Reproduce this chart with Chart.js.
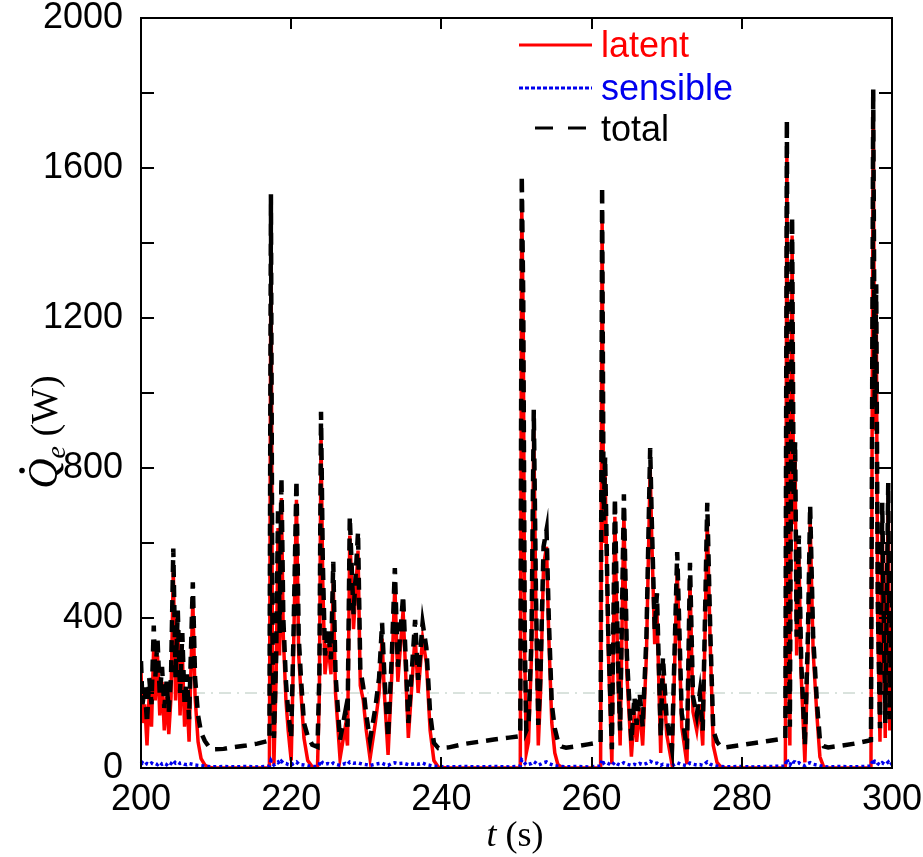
<!DOCTYPE html>
<html><head><meta charset="utf-8">
<script src="https://cdn.jsdelivr.net/npm/chart.js@4/dist/chart.umd.min.js"></script>
<style>html,body{margin:0;padding:0;background:#fff}#wrap{width:923px;height:857px;position:relative}</style>
</head><body><div id="wrap"><canvas id="c" width="923" height="857"></canvas></div>
<script>
// time (s)
const time = [
200.0,200.2,200.5,200.8,201.1,201.4,201.7,201.9,202.2,202.5,202.8,203.1,203.4,203.7,204.0,204.3,204.6,204.9,205.2,205.5,205.8,206.1,206.4,206.9,207.2,207.6,208.0,208.5,209.0,209.6,
211.0,212.5,214.0,215.5,217.1,
217.3,217.5,217.7,218.0,218.25,218.45,218.7,218.95,219.3,219.6,220.0,220.3,220.7,221.0,221.3,221.7,222.2,222.8,223.5,
223.75,223.97,224.2,224.5,224.9,225.3,225.6,225.9,226.5,227.2,227.5,227.8,228.3,228.9,229.2,229.6,230.0,230.5,231.2,231.7,232.1,232.4,232.9,233.4,233.8,234.2,234.9,235.6,236.0,236.5,236.9,237.5,238.0,238.5,239.0,239.6,
241.0,243.0,245.0,247.0,249.0,250.5,
250.7,250.9,251.1,251.3,251.6,252.0,252.3,252.6,252.9,253.2,253.6,254.0,254.3,254.7,255.1,255.5,256.0,256.6,
258.0,259.5,261.2,
261.4,261.6,261.8,262.2,262.7,263.1,263.5,263.8,264.3,264.7,265.3,265.7,266.0,266.4,266.8,267.3,267.8,268.0,268.4,268.7,269.2,269.5,270.0,270.7,271.4,272.0,272.7,273.1,273.5,274.0,274.4,274.8,275.4,275.8,276.2,276.7,277.2,277.8,
279.5,281.5,283.5,285.8,
286.0,286.2,286.4,286.7,286.9,287.1,287.3,287.6,287.9,288.4,288.8,289.1,289.5,290.0,290.4,290.9,291.5,
293.0,295.0,297.2,
297.5,297.7,297.9,298.1,298.4,298.7,299.1,299.5,299.7,300.0
];
// latent heat flow (W)
const latent = [
260,120,170,60,200,110,330,180,300,140,230,100,190,90,190,530,180,370,140,310,110,200,70,450,190,70,25,8,2,0,
0,0,0,0,0,
1450,300,10,250,640,300,720,350,180,100,20,300,715,300,200,80,20,3,0,
200,890,500,250,330,250,500,200,25,110,60,620,370,580,220,180,100,25,120,200,345,200,35,250,490,230,420,80,200,355,200,345,280,100,20,2,
0,0,0,0,0,0,
1500,1190,300,40,70,300,900,400,60,200,540,590,350,120,40,10,2,0,
0,0,0,
1480,600,780,330,10,670,250,60,680,250,30,150,70,160,60,300,800,620,330,420,40,250,90,10,530,110,10,500,150,100,170,60,660,330,60,15,3,0,
0,0,0,0,
1650,400,60,1420,650,820,300,570,250,15,300,660,310,140,30,3,0,
0,0,0,
1750,900,1230,400,70,660,80,720,100,400
];
// total heat flow (W)
const total = [
285,170,215,120,240,170,380,240,345,195,270,160,230,150,245,585,240,420,200,360,170,250,130,495,240,140,95,72,58,50,
51,56,60,65,73,
1530,360,80,300,695,360,775,400,230,150,80,350,768,350,240,120,85,62,56,
250,950,560,300,370,290,550,250,75,150,110,670,410,630,265,215,140,75,160,240,387,250,80,300,533,270,460,120,240,395,235,387,320,145,67,53,
55,64,70,76,81,85,
1580,1250,350,100,115,350,955,450,115,250,590,635,400,170,105,72,57,54,
58,63,69,
1550,660,830,370,50,720,300,100,730,300,70,190,115,200,110,350,853,670,368,466,83,296,128,50,576,146,50,547,190,140,200,100,707,368,100,70,57,55,
60,66,72,79,
1728,460,110,1470,720,870,350,620,290,60,350,700,350,176,75,58,55,
59,65,74,
1810,960,1290,450,106,707,120,760,130,450
];
// sensible heat flow (W)
const sensible = [
10,14,8,12,9,13,10,12,9,15,10,13,9,16,12,20,13,16,12,13,10,9,12,10,8,7,6,5,4,3,
4,3,4,3,5,
20,13,8,12,16,10,18,13,12,9,7,12,16,10,9,8,6,4,4,
10,20,13,10,12,9,13,10,7,12,9,16,13,14,12,10,9,7,10,12,13,10,7,12,14,12,13,9,10,12,10,13,9,7,5,4,
3,4,3,4,3,5,
22,18,13,8,10,12,17,13,8,10,14,16,12,9,6,5,4,3,
4,3,5,
22,13,16,12,7,16,10,8,14,10,7,10,8,12,9,12,18,16,12,13,7,10,8,6,14,9,6,13,10,8,9,7,16,10,7,5,4,3,
4,3,4,5,
24,13,8,20,16,16,12,14,10,6,12,14,10,8,6,4,3,
4,3,5,
24,16,18,12,8,14,9,16,8,12
];
const refTimes = [200, 300];
const refValues = [200, 200];
const xTickLabels = [200, 220, 240, 260, 280, 300];
const yTickLabels = [0, 400, 800, 1200, 1600, 2000];
const yTickMarks = [0, 200, 400, 600, 800, 1000, 1200, 1400, 1600, 1800, 2000];
const seriesNames = ['latent', 'sensible', 'total'];

const pts = (xs, ys) => xs.map((v, i) => ({x: v, y: ys[i]}));
const SANS = '"Liberation Sans", Arial, sans-serif';
const SERIF = '"Liberation Serif", "Times New Roman", serif';

const decor = {
  id: 'decor',
  afterDraw(chart) {
    const {ctx, chartArea: a, scales: {x, y}} = chart;
    ctx.save();
    ctx.strokeStyle = '#000';
    ctx.lineWidth = 2;
    ctx.setLineDash([]);
    ctx.strokeRect(a.left, a.top, a.right - a.left, a.bottom - a.top);
    ctx.beginPath();
    yTickMarks.forEach(v => {
      const py = Math.round(y.getPixelForValue(v));
      ctx.moveTo(a.left, py); ctx.lineTo(a.left + 13, py);
      ctx.moveTo(a.right, py); ctx.lineTo(a.right - 13, py);
    });
    xTickLabels.forEach(v => {
      const px = Math.round(x.getPixelForValue(v));
      ctx.moveTo(px, a.bottom); ctx.lineTo(px, a.bottom - 11);
      ctx.moveTo(px, a.top); ctx.lineTo(px, a.top + 11);
    });
    ctx.stroke();

    // legend
    const lx0 = 519, lx1 = 592, tx = 601;
    const rows = [47, 90, 131];
    ctx.lineWidth = 3;
    ctx.strokeStyle = '#ff0000';
    ctx.beginPath(); ctx.moveTo(lx0, rows[0] - 2); ctx.lineTo(lx1, rows[0] - 2); ctx.stroke();
    ctx.strokeStyle = '#0000ee';
    ctx.setLineDash([4, 2]);
    ctx.beginPath(); ctx.moveTo(lx0, rows[1] - 2); ctx.lineTo(lx1, rows[1] - 2); ctx.stroke();
    ctx.strokeStyle = '#000';
    ctx.setLineDash([18, 15]);
    ctx.beginPath(); ctx.moveTo(535, rows[2] - 3); ctx.lineTo(lx1, rows[2] - 3); ctx.stroke();
    ctx.setLineDash([]);
    ctx.font = '36px ' + SANS;
    ctx.textBaseline = 'middle';
    ctx.textAlign = 'left';
    ctx.fillStyle = '#ff0000'; ctx.fillText(seriesNames[0], tx, rows[0]);
    ctx.fillStyle = '#0000ee'; ctx.fillText(seriesNames[1], tx, rows[1]);
    ctx.fillStyle = '#000'; ctx.fillText(seriesNames[2], tx, rows[2]);

    // x title: t (s)
    ctx.fillStyle = '#000';
    ctx.textBaseline = 'alphabetic';
    ctx.font = 'italic 36px ' + SERIF;
    const tW = ctx.measureText('t').width;
    ctx.font = '36px ' + SERIF;
    const sW = ctx.measureText(' (s)').width;
    let sx = 515 - (tW + sW) / 2;
    ctx.font = 'italic 36px ' + SERIF;
    ctx.fillText('t', sx, 846);
    ctx.font = '36px ' + SERIF;
    ctx.fillText(' (s)', sx + tW, 846);

    // y title: Q̇e (W)
    ctx.save();
    ctx.translate(42, 432);
    ctx.rotate(-Math.PI / 2);
    ctx.font = 'italic 42px ' + SERIF;
    const qW = ctx.measureText('Q').width;
    ctx.font = 'italic 28px ' + SERIF;
    const eW = ctx.measureText('e').width;
    ctx.font = '38px ' + SERIF;
    const wW = ctx.measureText(' (W)').width;
    let ox = -(qW + eW + wW) / 2;
    const base = 15;
    ctx.font = 'italic 42px ' + SERIF;
    ctx.fillText('Q', ox, base);
    ctx.beginPath();
    ctx.arc(ox + qW * 0.6, base - 35, 2.8, 0, Math.PI * 2);
    ctx.fill();
    ctx.font = 'italic 28px ' + SERIF;
    ctx.fillText('e', ox + qW, base + 8);
    ctx.font = '38px ' + SERIF;
    ctx.fillText(' (W)', ox + qW + eW, base);
    ctx.restore();
    ctx.restore();
  }
};

new Chart(document.getElementById('c'), {
  type: 'line',
  data: {
    datasets: [
      {label: seriesNames[2], data: pts(time, total), borderColor: '#000', borderWidth: 4.5, borderDash: [12, 8], order: 0},
      {label: seriesNames[1], data: pts(time, sensible), borderColor: '#0000ee', borderWidth: 3.5, borderDash: [3, 3], order: 1, clip: 4},
      {label: seriesNames[0], data: pts(time, latent), borderColor: '#ff0000', borderWidth: 3.5, order: 2},
      {label: 'ref', data: pts(refTimes, refValues), borderColor: '#b4c6bb', borderWidth: 1, borderDash: [12, 6, 2, 6], order: 3}
    ]
  },
  options: {
    responsive: false,
    animation: false,
    devicePixelRatio: 1,
    layout: {padding: {left: 0, right: 31, top: 18, bottom: 0}},
    elements: {point: {radius: 0}, line: {tension: 0, fill: false}},
    plugins: {legend: {display: false}, tooltip: {enabled: false}},
    scales: {
      x: {
        type: 'linear', min: 200, max: 300,
        afterBuildTicks: s => { s.ticks = xTickLabels.map(v => ({value: v})); },
        afterFit: s => { s.height = 89; s.paddingLeft = 0; s.paddingRight = 0; },
        grid: {display: false, drawTicks: false},
        border: {display: false},
        ticks: {font: {family: SANS, size: 36}, color: '#000', padding: 10, maxRotation: 0, autoSkip: false, callback: v => String(v)}
      },
      y: {
        type: 'linear', min: 0, max: 2000,
        afterBuildTicks: s => { s.ticks = yTickLabels.map(v => ({value: v})); },
        afterFit: s => { s.width = 141; s.paddingTop = 0; s.paddingBottom = 0; },
        grid: {display: false, drawTicks: false},
        border: {display: false},
        ticks: {font: {family: SANS, size: 36}, color: '#000', padding: 18, autoSkip: false, callback: v => String(v)}
      }
    }
  },
  plugins: [decor]
});
</script></body></html>
